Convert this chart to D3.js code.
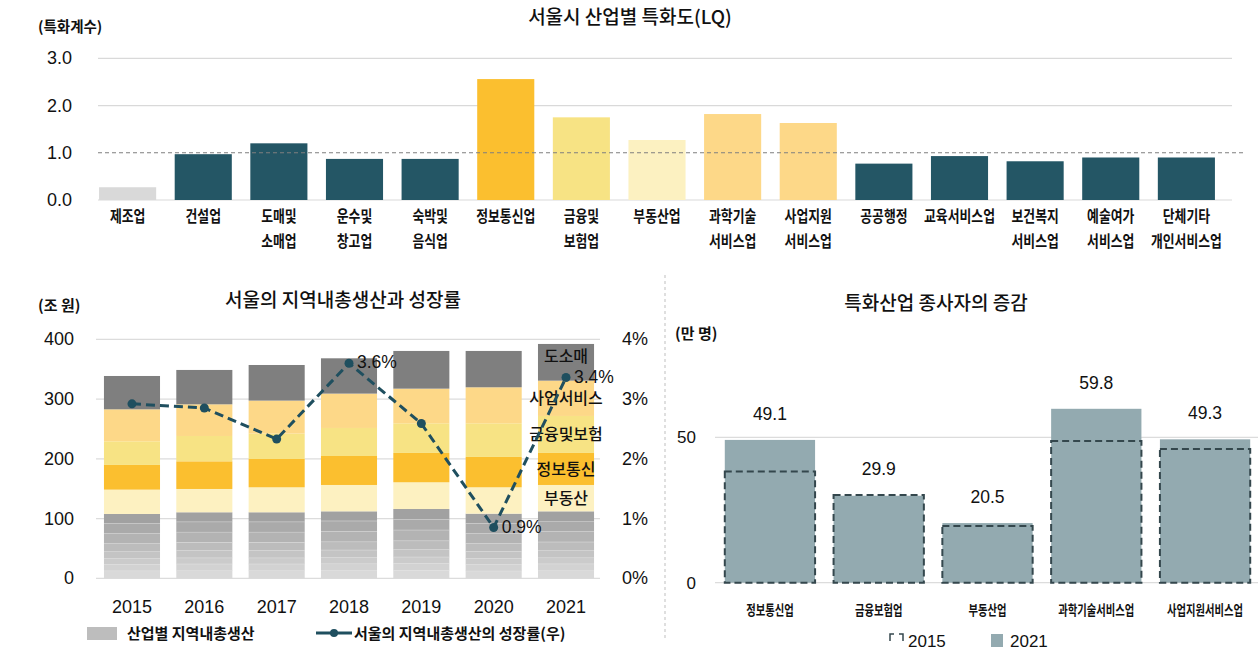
<!DOCTYPE html>
<html><head><meta charset="utf-8">
<script src="https://cdn.jsdelivr.net/npm/d3@7"></script>
<style>
body{margin:0;background:#fff;}
svg text{font-family:"Noto Sans CJK KR","Noto Sans",sans-serif;fill:#111;}
.num{font-family:"Liberation Sans",Arial,sans-serif;}
</style></head><body>
<svg id="c" width="1260" height="660"></svg>
<script>
// ---------- Top chart data ----------
const lqCategories = ["제조업","건설업","도매및\n소매업","운수및\n창고업","숙박및\n음식업","정보통신업","금융및\n보험업","부동산업","과학기술\n서비스업","사업지원\n서비스업","공공행정","교육서비스업","보건복지\n서비스업","예술여가\n서비스업","단체기타\n개인서비스업"];
const lqValues = [0.27,0.97,1.20,0.87,0.87,2.56,1.75,1.27,1.82,1.63,0.77,0.93,0.82,0.90,0.90];
const lqColors = ["#d9d9d9","#245665","#245665","#245665","#245665","#fbbf2f","#f7e384","#fcf1c1","#fdd888","#fdd888","#245665","#245665","#245665","#245665","#245665"];
const lqTicks = [0,1,2,3];

// ---------- Bottom-left data ----------
const years = ["2015","2016","2017","2018","2019","2020","2021"];
// other industries (gray stack, bottom to top)
const other1 = [12.7,13.0,13.0,13.2,13.5,12.5,13.0];
const other2 = [11.0,11.2,11.2,11.4,11.8,11.0,11.4];
const other3 = [10.0,10.3,10.2,10.4,10.6,10.0,10.3];
const other4 = [12.0,12.3,12.4,12.6,13.0,12.0,12.6];
const other5 = [13.3,13.6,13.6,13.8,14.2,13.4,13.8];
const other6 = [16.7,17.2,17.2,17.5,18.0,16.8,17.4];
const other7 = [16.7,17.2,17.2,17.4,18.0,16.6,17.4];
const other8 = [15.3,15.7,15.7,15.8,16.9,15.9,16.2];
const realEstate = [40.7,39.0,41.8,44.1,44.7,44.1,44.1];
const infoComm = [41.3,46.3,47.4,48.5,49.1,50.8,53.6];
const finance = [39.6,42.4,42.4,46.9,49.6,56.3,61.9];
const bizService = [53.5,53.0,55.3,57.5,58.0,60.3,59.1];
const wholesale = [55.8,57.5,59.6,59.1,63.1,60.8,61.4];
const growthRate = [2.92,2.85,2.33,3.6,2.59,0.85,3.36];
const growthLabels = [null,null,null,"3.6%",null,"0.9%","3.4%"];
const grdpTicks = [0,100,200,300,400];
const rateTicks = [0,1,2,3,4];

// ---------- Bottom-right data ----------
const empCategories = ["정보통신업","금융보험업","부동산업","과학기술서비스업","사업지원서비스업"];
const emp2015 = [38.2,30.2,19.5,48.7,46.0];
const emp2021 = [49.1,29.9,20.5,59.8,49.3];
const empTicks = [0,50];

const svg = d3.select("#c");

// ================= TOP CHART =================
{
  const x = d3.scaleBand().domain(lqCategories).range([90,1224]).paddingInner(0.245).paddingOuter(0.12);
  const y = d3.scaleLinear().domain([0,3]).range([200,58.3]);
  const g = svg.append("g");
  g.append("text").attr("x",630).attr("y",24).attr("text-anchor","middle").attr("font-size",19).attr("font-weight",500).text("서울시 산업별 특화도(LQ)");
  g.append("text").attr("x",38).attr("y",32).attr("font-size",14.5).attr("font-weight",700).text("(특화계수)");
  lqTicks.forEach(t=>{
    if(t!==1) g.append("line").attr("x1",98).attr("x2",1232).attr("y1",y(t)).attr("y2",y(t)).attr("stroke","#d9d9d9").attr("stroke-width",1.2);
    g.append("text").attr("class","num").attr("x",72).attr("y",y(t)+6).attr("text-anchor","end").attr("font-size",18).text(d3.format(".1f")(t));
  });
  g.selectAll("rect.lq").data(lqValues).join("rect")
    .attr("x",(d,i)=>x(lqCategories[i])).attr("width",x.bandwidth())
    .attr("y",d=>y(d)).attr("height",d=>y(0)-y(d)).attr("fill",(d,i)=>lqColors[i]);
  g.append("line").attr("x1",98).attr("x2",1246).attr("y1",y(1)).attr("y2",y(1)).attr("stroke","#7f7f7f").attr("stroke-width",1.2).attr("stroke-dasharray","4,3");
  lqCategories.forEach(c=>{
    const lines=c.split("\n");
    lines.forEach((l,k)=>{
      g.append("text").attr("transform",`translate(${x(c)+x.bandwidth()/2},${222+k*25}) scale(0.83,1)`)
        .attr("text-anchor","middle").attr("font-size",15.5).attr("font-weight",700).text(l);
    });
  });
}

// ================= BOTTOM-LEFT =================
{
  const x = d3.scaleBand().domain(years).range([96,602]).paddingInner(0.225).paddingOuter(0.11);
  const y = d3.scaleLinear().domain([0,400]).range([578.3,339.3]);
  const yr = d3.scaleLinear().domain([0,4]).range([578.3,339.3]);
  const g = svg.append("g");
  g.append("text").attr("x",343).attr("y",307).attr("text-anchor","middle").attr("font-size",19).attr("font-weight",500).text("서울의 지역내총생산과 성장률");
  g.append("text").attr("x",38).attr("y",311).attr("font-size",15).attr("font-weight",700).text("(조 원)");
  grdpTicks.forEach(t=>{
    g.append("line").attr("x1",96).attr("x2",600).attr("y1",y(t)).attr("y2",y(t)).attr("stroke","#dcdcdc").attr("stroke-width",1.2);
    g.append("text").attr("class","num").attr("x",74).attr("y",y(t)+6).attr("text-anchor","end").attr("font-size",18).text(t);
  });
  rateTicks.forEach(t=>{
    g.append("text").attr("class","num").attr("x",622).attr("y",yr(t)+6).attr("font-size",18).text(t+"%");
  });
  const seriesArr = [other1,other2,other3,other4,other5,other6,other7,other8,realEstate,infoComm,finance,bizService,wholesale];
  const keys = ["o1","o2","o3","o4","o5","o6","o7","o8","re","ic","fi","bs","ws"];
  const colors = ["#d9d9d9","#d2d2d2","#cbcbcb","#c4c4c4","#bcbcbc","#b3b3b3","#aaaaaa","#a1a1a1","#fdf1c1","#fbbf2f","#f7e384","#fdd888","#7f7f7f"];
  const rows = years.map((yy,i)=>{const o={year:yy};keys.forEach((k,j)=>o[k]=seriesArr[j][i]);return o;});
  const stack = d3.stack().keys(keys)(rows);
  stack.forEach((layer,li)=>{
    g.selectAll(null).data(layer).join("rect")
      .attr("x",d=>x(d.data.year)).attr("width",x.bandwidth())
      .attr("y",d=>y(d[1])).attr("height",d=>y(d[0])-y(d[1]))
      .attr("fill",colors[li]);
    if(li<7){
      g.selectAll(null).data(layer).join("line")
        .attr("x1",d=>x(d.data.year)).attr("x2",d=>x(d.data.year)+x.bandwidth())
        .attr("y1",d=>y(d[1])).attr("y2",d=>y(d[1])).attr("stroke","#e6e6e6").attr("stroke-width",0.8);
    }
  });
  // segment labels on last bar
  const segNames = {re:"부동산",ic:"정보통신",fi:"금융및보험",bs:"사업서비스",ws:"도소매"};
  const segShift = {re:0,ic:0,fi:0,bs:0,ws:-6};
  const last = years[years.length-1];
  stack.forEach(layer=>{
    if(!segNames[layer.key]) return;
    const d = layer[layer.length-1];
    g.append("text").attr("x",x(last)+x.bandwidth()/2).attr("y",y((d[0]+d[1])/2)+6+segShift[layer.key])
      .attr("text-anchor","middle").attr("font-size",16).attr("font-weight",500).text(segNames[layer.key]);
  });
  // line
  const cx = i=>x(years[i])+x.bandwidth()/2;
  const line = d3.line().x((d,i)=>cx(i)).y(d=>yr(d));
  g.append("path").datum(growthRate).attr("d",line).attr("fill","none").attr("stroke","#1f4f5f").attr("stroke-width",3).attr("stroke-dasharray","9,5");
  g.selectAll(null).data(growthRate).join("circle").attr("cx",(d,i)=>cx(i)).attr("cy",d=>yr(d)).attr("r",4.5).attr("fill","#1f4f5f");
  growthLabels.forEach((l,i)=>{
    if(!l) return;
    g.append("text").attr("class","num").attr("x",cx(i)+8).attr("y",yr(growthRate[i])+5).attr("font-size",17.5).text(l);
  });
  years.forEach(yy=>{
    g.append("text").attr("class","num").attr("x",x(yy)+x.bandwidth()/2).attr("y",613).attr("text-anchor","middle").attr("font-size",18).text(yy);
  });
  // legend
  g.append("rect").attr("x",87).attr("y",627).attr("width",30).attr("height",13).attr("fill","#bdbdbd");
  g.append("text").attr("x",127).attr("y",639).attr("font-size",15).attr("font-weight",700).text("산업별 지역내총생산");
  g.append("line").attr("x1",316).attr("x2",352).attr("y1",633).attr("y2",633).attr("stroke","#1f4f5f").attr("stroke-width",3);
  g.append("circle").attr("cx",334).attr("cy",633).attr("r",4).attr("fill","#1f4f5f");
  g.append("text").attr("x",354).attr("y",639).attr("font-size",15).attr("font-weight",700).text("서울의 지역내총생산의 성장률(우)");
}

// separator
svg.append("line").attr("x1",665).attr("x2",665).attr("y1",275).attr("y2",640).attr("stroke","#bfbfbf").attr("stroke-width",1).attr("stroke-dasharray","3,3");

// ================= BOTTOM-RIGHT =================
{
  const x = d3.scaleBand().domain(empCategories).range([715,1260]).paddingInner(0.17).paddingOuter(0.09);
  const y = d3.scaleLinear().domain([0,50]).range([582.7,437.3]);
  const g = svg.append("g");
  g.append("text").attr("x",936).attr("y",310).attr("text-anchor","middle").attr("font-size",19).attr("font-weight",500).text("특화산업 종사자의 증감");
  g.append("text").attr("x",675).attr("y",339).attr("font-size",15).attr("font-weight",700).text("(만 명)");
  empTicks.forEach(t=>{
    g.append("line").attr("x1",715).attr("x2",1258).attr("y1",y(t)).attr("y2",y(t)).attr("stroke","#dcdcdc").attr("stroke-width",1.2);
    g.append("text").attr("class","num").attr("x",696).attr("y",y(t)+6).attr("text-anchor","end").attr("font-size",17).text(t);
  });
  g.selectAll(null).data(emp2021).join("rect")
    .attr("x",(d,i)=>x(empCategories[i])).attr("width",x.bandwidth())
    .attr("y",d=>y(d)).attr("height",d=>y(0)-y(d)).attr("fill","#93aab0");
  g.selectAll(null).data(emp2015).join("rect")
    .attr("x",(d,i)=>x(empCategories[i])).attr("width",x.bandwidth())
    .attr("y",d=>y(d)).attr("height",d=>y(0)-y(d)).attr("fill","none")
    .attr("stroke","#34474d").attr("stroke-width",2).attr("stroke-dasharray","7,4");
  emp2021.forEach((d,i)=>{
    g.append("text").attr("class","num").attr("x",x(empCategories[i])+x.bandwidth()/2).attr("y",y(Math.max(d,emp2015[i]))-20)
      .attr("text-anchor","middle").attr("font-size",17.5).text(d3.format(".1f")(d));
  });
  empCategories.forEach(c=>{
    g.append("text").attr("transform",`translate(${x(c)+x.bandwidth()/2},615) scale(0.74,1)`)
      .attr("text-anchor","middle").attr("font-size",14).attr("font-weight",700).text(c);
  });
  // legend
  g.append("path").attr("d","M890,641 L890,634 L894,634 M899,634 L903,634 L903,641").attr("fill","none").attr("stroke","#34474d").attr("stroke-width",1.5);
  g.append("text").attr("class","num").attr("x",908).attr("y",647).attr("font-size",17).text("2015");
  g.append("rect").attr("x",991).attr("y",634).attr("width",12).attr("height",13).attr("fill","#93aab0");
  g.append("text").attr("class","num").attr("x",1010).attr("y",647).attr("font-size",17).text("2021");
}
</script>
</body></html>
